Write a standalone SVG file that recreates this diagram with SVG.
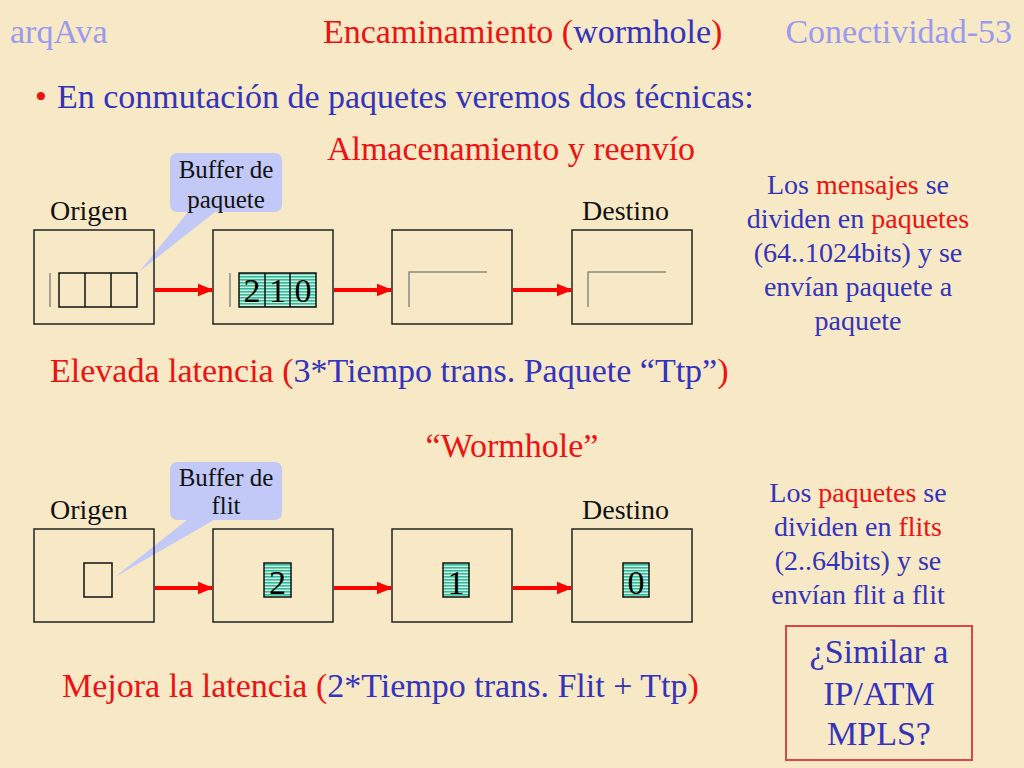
<svg xmlns="http://www.w3.org/2000/svg" width="1024" height="768" viewBox="0 0 1024 768">
<style>
text{font-family:"Liberation Serif","Times New Roman",serif;}
.big{font-size:34px;}
.mid{font-size:28px;}
.sm{font-size:25px;fill:#111;}
.dig{font-size:34px;fill:#000;text-anchor:middle;}
.blue{fill:#3333BB;}
.red{fill:#EE1111;}
.lav{fill:#9A9AEE;}
.blk{fill:#111;}
.box{fill:none;stroke:#222;stroke-width:1.5;}
.cell{fill:none;stroke:#111;stroke-width:1.5;}
.gcell{fill:url(#stripes);stroke:#111;stroke-width:1.5;}
.gray{fill:none;stroke:#8a8a80;stroke-width:1.5;}
.call{fill:#C2C9F6;}
.arr{stroke:#FF0000;stroke-width:4;fill:none;marker-end:url(#ah);}
</style>
<defs>
<pattern id="stripes" patternUnits="userSpaceOnUse" width="4" height="3">
<rect width="4" height="3" fill="#D2F3E6"/>
<rect width="4" height="1.6" fill="#33BB99"/>
</pattern>
<marker id="ah" markerWidth="4" markerHeight="4" refX="3.6" refY="2" orient="auto" markerUnits="strokeWidth">
<path d="M0,0.4 L4,2 L0,3.6 Z" fill="#FF0000"/>
</marker>
</defs>
<rect width="1024" height="768" fill="#F7E8C6"/>

<g id="header">
<text x="10" y="43" class="big lav">arqAva</text>
<text x="323" y="43" class="big red">Encaminamiento (<tspan class="blue">wormhole</tspan>)</text>
<text x="1012" y="43" class="big lav" text-anchor="end">Conectividad-53</text>
<text x="35" y="108" class="big red">•</text>
<text x="57" y="108" class="big blue">En conmutación de paquetes veremos dos técnicas:</text>
</g>

<g id="section1-title"><text x="511" y="160" class="big red" text-anchor="middle">Almacenamiento y reenvío</text></g>

<g id="s1-callout">
<path class="call" d="M178,153 H274 Q282,153 282,161 V204 Q282,212 274,212 H215 L140,271 L188,212 H178 Q170,212 170,204 V161 Q170,153 178,153 Z"/>
<text x="226" y="178" class="sm" text-anchor="middle">Buffer de</text>
<text x="226" y="208" class="sm" text-anchor="middle">paquete</text>
</g>

<g id="s1-origen">
<text x="50" y="220" class="mid blk">Origen</text>
<rect class="box" x="34" y="230" width="120" height="94"/>
<path class="gray" d="M50,307 V273"/>
<rect class="cell" x="59" y="273" width="78" height="34"/>
<path class="cell" d="M85,273 V307 M111,273 V307"/>
</g>

<g id="s1-node2">
<rect class="box" x="213" y="230" width="120" height="94"/>
<path class="gray" d="M230,307 V273"/>
<rect class="gcell" x="239" y="273" width="77" height="34"/>
<path class="cell" d="M265,273 V307 M290,273 V307"/>
<text x="252" y="302" class="dig">2</text>
<text x="277.5" y="302" class="dig">1</text>
<text x="303" y="302" class="dig">0</text>
</g>

<g id="s1-node3">
<rect class="box" x="392" y="230" width="120" height="94"/>
<path class="gray" d="M409,307 V272 H487"/>
</g>

<g id="s1-destino">
<text x="582" y="220" class="mid blk">Destino</text>
<rect class="box" x="572" y="230" width="120" height="94"/>
<path class="gray" d="M588,307 V272 H666"/>
</g>

<g id="s1-desc" class="mid blue" text-anchor="middle">
<text x="858" y="194">Los <tspan class="red">mensajes</tspan> se</text>
<text x="858" y="228">dividen en <tspan class="red">paquetes</tspan></text>
<text x="858" y="262">(64..1024bits) y se</text>
<text x="858" y="296">envían paquete a</text>
<text x="858" y="330">paquete</text>
</g>

<g id="s1-latency"><text x="50" y="382" class="big red">Elevada latencia (<tspan class="blue">3*Tiempo trans. Paquete “Ttp”</tspan>)</text></g>

<g id="section2-title"><text x="512" y="457" class="big red" text-anchor="middle">“Wormhole”</text></g>

<g id="s2-callout">
<path class="call" d="M178,462 H274 Q282,462 282,470 V512 Q282,520 274,520 H214 L115,577 L187,520 H178 Q170,520 170,512 V470 Q170,462 178,462 Z"/>
<text x="226" y="486" class="sm" text-anchor="middle">Buffer de</text>
<text x="226" y="514" class="sm" text-anchor="middle">flit</text>
</g>

<g id="s2-origen">
<text x="50" y="519" class="mid blk">Origen</text>
<rect class="box" x="34" y="529" width="120" height="93"/>
<rect class="cell" x="84" y="563" width="28" height="34"/>
</g>

<g id="s2-node2">
<rect class="box" x="213" y="529" width="120" height="93"/>
<rect class="gcell" x="264" y="563" width="27" height="34"/>
<text x="277.5" y="594" class="dig">2</text>
</g>

<g id="s2-node3">
<rect class="box" x="392" y="529" width="120" height="93"/>
<rect class="gcell" x="443" y="563" width="26" height="34"/>
<text x="456" y="594" class="dig">1</text>
</g>

<g id="s2-destino">
<text x="582" y="519" class="mid blk">Destino</text>
<rect class="box" x="572" y="529" width="120" height="93"/>
<rect class="gcell" x="623" y="563" width="26" height="34"/>
<text x="636" y="594" class="dig">0</text>
</g>

<g id="s2-desc" class="mid blue" text-anchor="middle">
<text x="858" y="502">Los <tspan class="red">paquetes</tspan> se</text>
<text x="858" y="536">dividen en <tspan class="red">flits</tspan></text>
<text x="858" y="570">(2..64bits) y se</text>
<text x="858" y="604">envían flit a flit</text>
</g>

<g id="question">
<rect x="786" y="626" width="186" height="134" fill="none" stroke="#D84848" stroke-width="2"/>
<text x="879" y="663" class="big blue" text-anchor="middle">¿Similar a</text>
<text x="879" y="705" class="big blue" text-anchor="middle">IP/ATM</text>
<text x="879" y="745" class="big blue" text-anchor="middle">MPLS?</text>
</g>

<g id="s2-latency"><text x="62" y="697" class="big red">Mejora la latencia (<tspan class="blue">2*Tiempo trans. Flit + Ttp</tspan>)</text></g>

<g id="connectors">
<line class="arr" x1="155" y1="290" x2="212" y2="290"/>
<line class="arr" x1="334" y1="290" x2="391" y2="290"/>
<line class="arr" x1="513" y1="290" x2="571" y2="290"/>
<line class="arr" x1="155" y1="588" x2="212" y2="588"/>
<line class="arr" x1="334" y1="588" x2="391" y2="588"/>
<line class="arr" x1="513" y1="588" x2="571" y2="588"/>
</g>
</svg>
